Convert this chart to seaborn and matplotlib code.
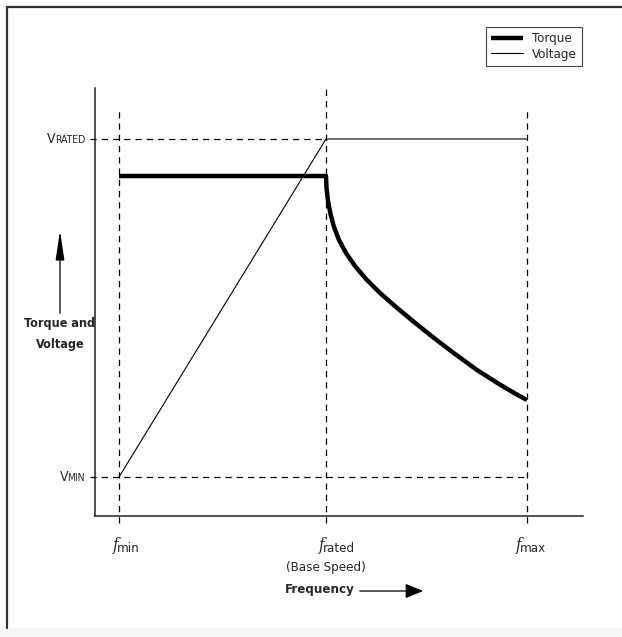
import matplotlib
matplotlib.use("Agg")
import matplotlib.pyplot as plt
import seaborn as sns
import pandas as pd
from matplotlib.lines import Line2D
from matplotlib.patches import Rectangle, FancyArrowPatch

# frequency axis positions (arbitrary units)
f_min = 24
f_rated = 231
f_max = 432
x_lim = (0, 488)
y_lim = (0, 428)

v_min = 39
v_rated = 377
torque_const = 340

# voltage: linear ramp to rated, then flat
volt_f = [f_min, f_rated, f_max]
volt_v = [v_min, v_rated, v_rated]

# torque: flat up to base speed, then falls off
torque_f = [f_min, 231, 231.5, 233, 235.5, 239, 244, 251, 260, 271, 285, 301, 319, 339, 360, 382, 404, 420, 432]
torque_t = [torque_const, 340, 328, 315, 302, 289, 276, 263, 250, 237, 223, 209, 194, 178, 162, 146, 132, 122.5, 116]

sns.set_style("white")
plt.rcParams['font.family'] = ['DejaVu Sans']
plt.rcParams['font.stretch'] = 'condensed'

W, H = 622, 637
fig = plt.figure(figsize=(W / 100, H / 100), dpi=100)
fig.patch.set_facecolor("white")
ax = fig.add_axes([95 / W, 1 - 516 / H, (583 - 95) / W, (516 - 88) / H])

df_t = pd.DataFrame({"f": torque_f, "v": torque_t})
df_v = pd.DataFrame({"f": volt_f, "v": volt_v})
sns.lineplot(data=df_t, x="f", y="v", sort=False, color="black", lw=3.2, ax=ax,
             label="Torque", solid_capstyle="butt", solid_joinstyle="round")
sns.lineplot(data=df_v, x="f", y="v", sort=False, color="black", lw=0.8, ax=ax, label="Voltage")

ax.set_xlim(*x_lim)
ax.set_ylim(*y_lim)
ax.set_xticks([])
ax.set_yticks([])
ax.set_xlabel("")
ax.set_ylabel("")
for s in ["top", "right"]:
    ax.spines[s].set_visible(False)
for s in ["left", "bottom"]:
    ax.spines[s].set_color("#222222")
    ax.spines[s].set_linewidth(1.1)

dash = dict(color="black", lw=0.9, ls=(0, (5, 4)), clip_on=False)
ax.plot([f_min, f_min], [-7, 406], **dash)
ax.plot([f_rated, f_rated], [-7, 428], **dash)
ax.plot([f_max, f_max], [-7, 406], **dash)
ax.plot([-5, f_rated], [v_rated, v_rated], **dash)
ax.plot([-5, f_max], [v_min, v_min], **dash)

ax.get_legend().remove()
leg = fig.legend(handles=[Line2D([], [], color="black", lw=3.2, solid_capstyle="butt"),
                          Line2D([], [], color="black", lw=0.8)],
                 labels=["Torque", "Voltage"], loc="upper left",
                 bbox_to_anchor=(486 / W, 1 - 27 / H), fancybox=False, framealpha=1,
                 edgecolor="#444444", fontsize=9.5, handlelength=2.4, borderpad=0.4,
                 labelspacing=0.2, handletextpad=0.7, borderaxespad=0)
leg.get_frame().set_linewidth(0.8)


def px(x, y):
    return x / W, 1 - y / H


# y-axis level labels (small caps style): big V, smaller rest
fig.canvas.draw()
renderer = fig.canvas.get_renderer()
for y, rest in [(139, "RATED"), (477, "MIN")]:
    t = fig.text(*px(85, y + 1), rest, fontsize=7.5, ha="right", va="center")
    bb = t.get_window_extent(renderer)
    fig.text((bb.x0 + 1) / W, 1 - y / H, "V", fontsize=10, ha="right", va="center")

fig.text(*px(60, 334), "Torque and\nVoltage", fontsize=9, fontweight="bold",
         ha="center", va="center", linespacing=1.75)
fig.add_artist(FancyArrowPatch(
    px(60, 316), px(60, 228), transform=fig.transFigure,
    arrowstyle="-|>,head_length=1.8,head_width=0.27", mutation_scale=10,
    color="black", lw=0.9))


# x-axis labels
def flabel(x, sub):
    fig.text(*px(x + 1, 546), "f", fontsize=12, ha="right", va="center",
             family="DejaVu Serif", style="italic")
    fig.text(*px(x, 548), sub, fontsize=9.5, ha="left", va="center")


flabel(117, "min")
flabel(323, "rated")
flabel(520, "max")
fig.text(*px(326, 567), "(Base Speed)", fontsize=9.5, ha="center", va="center")

fig.text(*px(320, 589), "Frequency", fontsize=9.5, fontweight="bold", ha="center", va="center")
fig.add_artist(FancyArrowPatch(
    px(357, 591), px(426, 591), transform=fig.transFigure,
    arrowstyle="-|>,head_length=1.1,head_width=0.45", mutation_scale=10,
    color="black", lw=0.9))

# outer page frame
fig.add_artist(Line2D([7 / W, 1], [1 - 7 / H, 1 - 7 / H], transform=fig.transFigure,
                      color="#333333", lw=1.6))
fig.add_artist(Line2D([7 / W, 7 / W], [1 - 7 / H, 1 - 628 / H], transform=fig.transFigure,
                      color="#333333", lw=1.6))
fig.add_artist(Rectangle((0, 0), 1, 9 / H, transform=fig.transFigure,
                         facecolor="#f6f6f6", edgecolor="none"))

fig.savefig("out.png", dpi=100)
